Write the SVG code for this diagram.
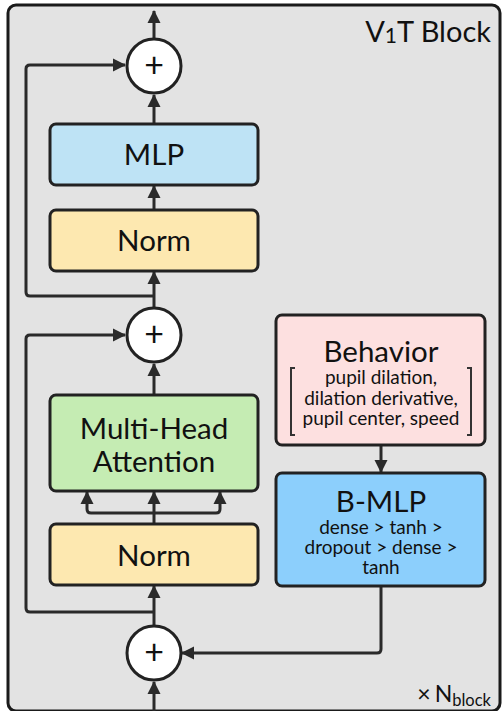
<svg xmlns="http://www.w3.org/2000/svg" width="504" height="711" viewBox="0 0 504 711">
<style>
.box{stroke:#222;stroke-width:3}
.ln{fill:none;stroke:#2a2a2a;stroke-width:3}
.t{font-family:Lato,"Noto Sans",sans-serif;fill:#111;text-anchor:middle}
.big{font-size:29.5px}
.sm{font-size:19px}
.plus{font-size:34px}
.add{fill:#fff;stroke:#222;stroke-width:3}
</style>
<defs>
<marker id="ah" markerUnits="userSpaceOnUse" markerWidth="14" markerHeight="14" refX="12" refY="7" orient="auto">
<path d="M0,0.5 L13,7 L0,13.5 z" fill="#2a2a2a"/>
</marker>
</defs>
<rect x="8" y="5" width="492" height="706" rx="8" fill="#e3e3e3" stroke="#1a1a1a" stroke-width="3"/>
<text x="491" y="42" font-family="Lato,sans-serif" font-size="29" fill="#111" text-anchor="end">V<tspan font-size="21" dy="1">1</tspan><tspan dy="-1">T Block</tspan></text>
<text x="491" y="702" font-family="Lato,sans-serif" font-size="23" fill="#111" text-anchor="end">×<tspan dx="4">N</tspan><tspan font-size="16.5" dy="4">block</tspan></text>

<g id="connectors">
<line class="ln" x1="154" y1="38" x2="154" y2="11" marker-end="url(#ah)"/>
<line class="ln" x1="154" y1="124" x2="154" y2="95" marker-end="url(#ah)"/>
<line class="ln" x1="154" y1="210" x2="154" y2="186" marker-end="url(#ah)"/>
<line class="ln" x1="154" y1="307" x2="154" y2="272" marker-end="url(#ah)"/>
<path class="ln" d="M154,296 H30 Q26,296 26,292 V69 Q26,65 30,65 H125" marker-end="url(#ah)"/>
<line class="ln" x1="154" y1="395" x2="154" y2="364" marker-end="url(#ah)"/>
<path class="ln" d="M154,612 H30 Q26,612 26,608 V339 Q26,335 30,335 H125" marker-end="url(#ah)"/>
<line class="ln" x1="154" y1="524" x2="154" y2="492" marker-end="url(#ah)"/>
<path class="ln" d="M154,513 H91 Q87,513 87,509 V492" marker-end="url(#ah)"/>
<path class="ln" d="M154,513 H216 Q220,513 220,509 V492" marker-end="url(#ah)"/>
<line class="ln" x1="154" y1="625" x2="154" y2="586" marker-end="url(#ah)"/>
<line class="ln" x1="154" y1="711" x2="154" y2="682" marker-end="url(#ah)"/>
<line class="ln" x1="381" y1="445" x2="381" y2="472" marker-end="url(#ah)"/>
<path class="ln" d="M381,586 V649 Q381,653 377,653 H182" marker-end="url(#ah)"/>
</g>

<g id="add-top"><circle class="add" cx="154" cy="66" r="27"/><text class="t plus" x="154" y="77">+</text></g>
<g id="mlp"><rect class="box" x="50" y="124" width="208" height="61" rx="6" fill="#bee3f5"/><text class="t big" x="154" y="165">MLP</text></g>
<g id="norm-top"><rect class="box" x="50" y="210" width="208" height="61" rx="6" fill="#fde8b0"/><text class="t big" x="154" y="251">Norm</text></g>
<g id="add-mid"><circle class="add" cx="154" cy="335" r="27"/><text class="t plus" x="154" y="346">+</text></g>
<g id="mha"><rect class="box" x="50" y="395" width="208" height="96" rx="6" fill="#c5ecb3"/><text class="t big" x="154" y="439">Multi-Head</text><text class="t big" x="154" y="472">Attention</text></g>
<g id="norm-bottom"><rect class="box" x="50" y="524" width="208" height="61" rx="6" fill="#fde8b0"/><text class="t big" x="154" y="566">Norm</text></g>
<g id="add-bottom"><circle class="add" cx="154" cy="653" r="27"/><text class="t plus" x="154" y="664">+</text></g>
<g id="behavior"><rect class="box" x="276" y="315" width="209" height="130" rx="6" fill="#fde0e0"/>
<text class="t big" x="381" y="362">Behavior</text>
<text class="t sm" x="381" y="384">pupil dilation,</text>
<text class="t sm" x="381" y="405">dilation derivative,</text>
<text class="t sm" x="381" y="425">pupil center, speed</text>
<path d="M295,368 H291 V435 H295 M467,368 H471 V435 H467" fill="none" stroke="#333" stroke-width="2"/>
</g>
<g id="b-mlp"><rect class="box" x="276" y="473" width="209" height="113" rx="6" fill="#8ccffc"/>
<text class="t big" x="381" y="512">B-MLP</text>
<text class="t sm" x="381" y="534">dense &gt; tanh &gt;</text>
<text class="t sm" x="381" y="554">dropout &gt; dense &gt;</text>
<text class="t sm" x="381" y="574">tanh</text>
</g>
</svg>
